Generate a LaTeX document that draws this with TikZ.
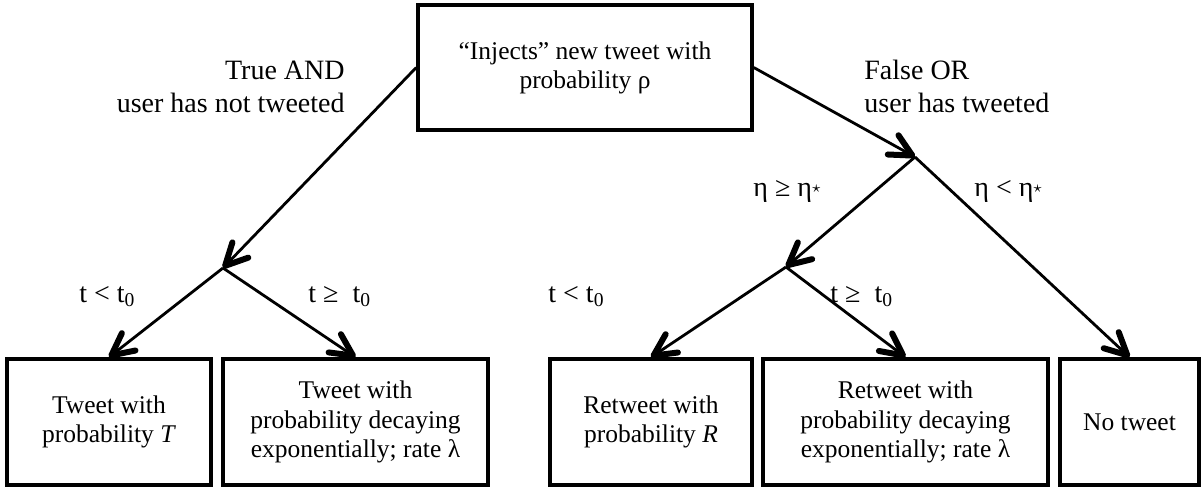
\documentclass[tikz,border=0pt]{standalone}
\usepackage{fontspec}
\setmainfont{Liberation Serif}
\usetikzlibrary{arrows.meta}
\newcommand\mystar{\raisebox{0.25ex}{\fontsize{8}{8}\selectfont$\star$}}
\begin{document}
\begin{tikzpicture}[x=0.5pt,y=-0.5pt,
  box/.style={draw, line width=1.75pt, align=center, inner sep=0pt, font=\fontsize{12.75}{14.6}\selectfont},
  conn/.style={line width=1.4pt, -{Straight Barb[length=11pt,width=11pt,line width=3pt,round]}},
  lbl/.style={inner sep=0pt, font=\fontsize{14}{16.5}\selectfont}]
\path[use as bounding box] (0,0) rectangle (1201,489);
% boxes
\node[box, minimum width=167pt, minimum height=62.5pt] (top) at (585,67.5) {“Injects” new tweet with\\probability ρ};
\node[box, minimum width=102pt, minimum height=63pt] (b1) at (109,422) {Tweet with\\probability \textit{T}};
\node[box, minimum width=132.5pt, minimum height=63pt] (b2) at (355.5,422) {Tweet with\\probability decaying\\exponentially; rate λ};
\node[box, minimum width=101pt, minimum height=63pt] (b3) at (651,422) {Retweet with\\probability \textit{R}};
\node[box, minimum width=142.5pt, minimum height=63pt] (b4) at (905.5,422) {Retweet with\\probability decaying\\exponentially; rate λ};
\node[box, minimum width=69.5pt, minimum height=63pt] (b5) at (1129.5,422) {No tweet};
% junctions
\coordinate (j1) at (223,268);
\coordinate (j2) at (915,157);
\coordinate (j3) at (786,267);
% connectors
\draw[conn] (top.west) -- (j1);
\draw[conn] (top.east) -- (j2);
\draw[conn] (j1) -- (b1.north);
\draw[conn] (j1) -- (b2.north);
\draw[conn] (j2) -- (j3);
\draw[conn] (j2) -- (b5.north);
\draw[conn] (j3) -- (b3.north);
\draw[conn] (j3) -- (b4.north);
% labels
\node[lbl, anchor=base east] (ltrue) at (345,79) {\begin{tabular}[t]{@{}r@{}}True AND\\user has not tweeted\end{tabular}};
\node[lbl, anchor=base west] (lfalse) at (864,79) {\begin{tabular}[t]{@{}l@{}}False OR\\user has tweeted\end{tabular}};
\node[lbl, anchor=base west] (lge) at (753,196) {η ≥ η\mystar};
\node[lbl, anchor=base west] (llt) at (974,196) {η < η\mystar};
\node[lbl, anchor=base west] (t1) at (79,302) {t < t\textsubscript{0}};
\node[lbl, anchor=base west] (t2) at (308,302) {t ≥~~t\textsubscript{0}};
\node[lbl, anchor=base west] (t3) at (548,302) {t < t\textsubscript{0}};
\node[lbl, anchor=base west] (t4) at (830,302) {t ≥~~t\textsubscript{0}};
\end{tikzpicture}
\end{document}
